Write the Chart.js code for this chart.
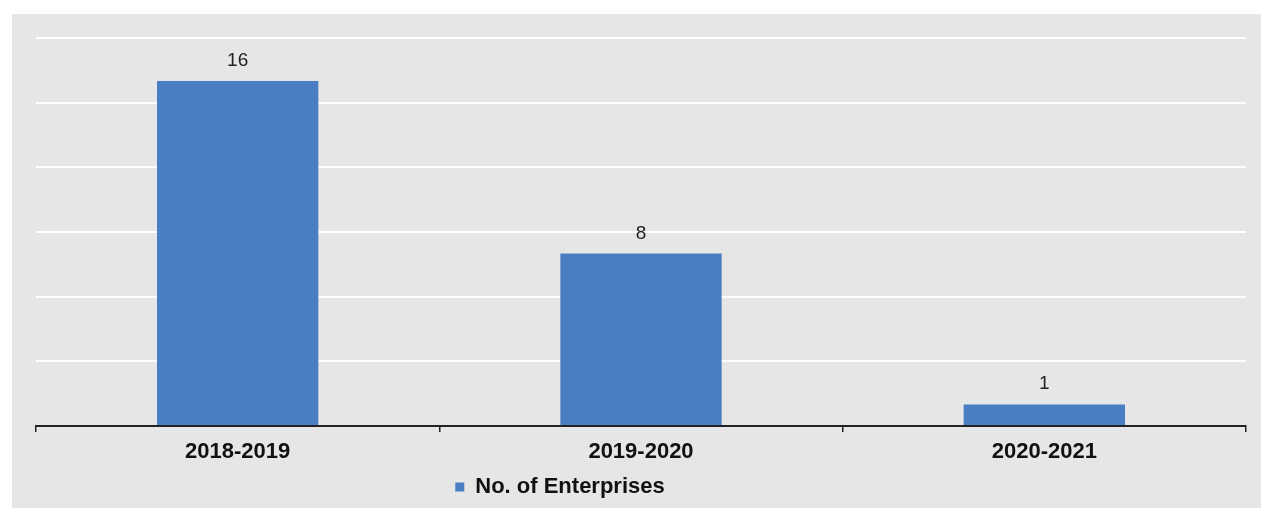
<!DOCTYPE html>
<html>
<head>
<meta charset="utf-8">
<script src="https://cdn.jsdelivr.net/npm/chart.js@4"></script>
<style>
html,body{margin:0;padding:0;background:#fff;}
#wrap{position:absolute;left:12px;top:14px;width:1249px;height:494px;background:#e6e6e6;}
canvas{display:block;}
</style>
</head>
<body>
<div id="wrap"><canvas id="c" width="1249" height="494"></canvas></div>
<script>
const categories = ["2018-2019", "2019-2020", "2020-2021"];
const enterprises = [16, 8, 1];
const seriesName = "No. of Enterprises";
const yTicks = { min: 0, max: 18, step: 3 };

const FONT = "'Liberation Sans', Arial, sans-serif";
const BLUE = "#4a7ec2";

const valueLabels = {
  id: "valueLabels",
  afterDatasetsDraw(chart) {
    const ctx = chart.ctx;
    const meta = chart.getDatasetMeta(0);
    ctx.save();
    ctx.font = "19px " + FONT;
    ctx.fillStyle = "#222";
    ctx.textAlign = "center";
    ctx.textBaseline = "alphabetic";
    meta.data.forEach((bar, i) => {
      ctx.fillText(String(chart.data.datasets[0].data[i]), bar.x, bar.y - 15);
    });
    ctx.restore();
  }
};

const shiftLegend = {
  id: "shiftLegend",
  afterLayout(chart) {
    const lg = chart.legend;
    if (!lg) return;
    const dx = -81;
    lg.left += dx;
    lg.right += dx;
  }
};

new Chart(document.getElementById("c"), {
  type: "bar",
  data: {
    labels: categories,
    datasets: [{
      label: seriesName,
      data: enterprises,
      backgroundColor: BLUE,
      borderWidth: 0,
      categoryPercentage: 1.0,
      barPercentage: 0.4
    }]
  },
  options: {
    responsive: false,
    animation: false,
    layout: { padding: { left: 24, right: 15, top: 24, bottom: 0 } },
    plugins: {
      tooltip: { enabled: false },
      legend: {
        position: "bottom",
        labels: {
          boxWidth: 9,
          boxHeight: 9,
          padding: 10,
          color: "#111",
          font: { family: FONT, size: 22, weight: "bold" }
        }
      }
    },
    scales: {
      x: {
        afterFit(scale) { scale.height = 40; },
        grid: {
          display: true,
          drawOnChartArea: false,
          drawTicks: true,
          tickLength: 6,
          color: "#222",
          lineWidth: 1.5
        },
        border: { display: true, color: "#222", width: 2 },
        ticks: {
          padding: 7,
          color: "#111",
          font: { family: FONT, size: 22, weight: "bold" }
        }
      },
      y: {
        min: yTicks.min,
        max: yTicks.max,
        ticks: { display: false, stepSize: yTicks.step },
        grid: { color: "#ffffff", lineWidth: 2, drawTicks: false },
        border: { display: false }
      }
    }
  },
  plugins: [valueLabels, shiftLegend]
});
</script>
</body>
</html>
